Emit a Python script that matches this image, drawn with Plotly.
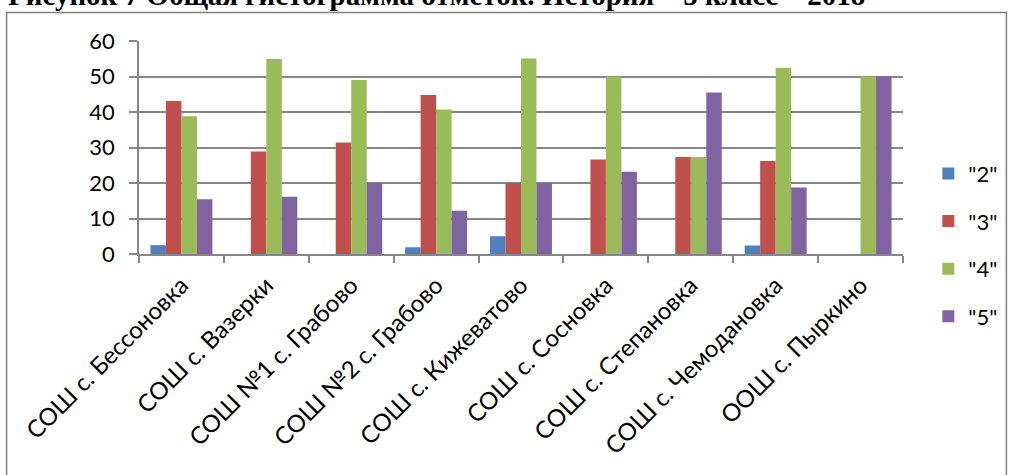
import plotly.graph_objects as go

categories = ["СОШ с. Бессоновка", "СОШ с. Вазерки", "СОШ №1 с. Грабово", "СОШ №2 с. Грабово",
              "СОШ с. Кижеватово", "СОШ с. Сосновка", "СОШ с. Степановка", "СОШ с. Чемодановка",
              "ООШ с. Пыркино"]
series_names = ['"2"', '"3"', '"4"', '"5"']
grade2 = [2.5, 0, 0, 1.9, 5.0, 0, 0, 2.4, 0]
grade3 = [43.1, 28.9, 31.4, 44.8, 20.0, 26.6, 27.3, 26.2, 0]
grade4 = [38.8, 54.9, 49.0, 40.7, 55.1, 50.0, 27.3, 52.5, 50.0]
grade5 = [15.4, 16.1, 20.0, 12.2, 20.0, 23.2, 45.5, 18.7, 50.0]
colors = ["#4F81BD", "#C0504D", "#9BBB59", "#8064A2"]
title_text = "Рисунок 7 Общая гистограмма отметок. История – 5 класс – 2018"

W, H = 1015, 475
# plot area in page pixels (page body margin removed below)
PL, PR, PT, PB = 139.3, 902.7, 40.7, 254.3
ML, MT = PL, PT
MR, MB = W - PR, H - PB
PW, PH = PR - PL, PB - PT

def px_x(x):  # page pixel -> paper
    return (x - PL) / PW

def px_y(y):
    return (PB - y) / PH

fig = go.Figure()
for i, (name, vals) in enumerate(zip(series_names, [grade2, grade3, grade4, grade5])):
    fig.add_trace(go.Bar(x=categories, y=vals, name=name, marker_color=colors[i],
                         marker_line_width=0, legendgroup=name))

font_main = "Lato, 'Open Sans', sans-serif"
fig.update_layout(
    width=W, height=H,
    margin=dict(l=ML, r=MR, t=MT, b=MB, autoexpand=False),
    paper_bgcolor="white", plot_bgcolor="white",
    barmode="group", bargap=0.27, bargroupgap=0,
    font=dict(family=font_main, size=22, color="black"),
    legend=dict(x=px_x(928), y=px_y(245.5), xanchor="left", yanchor="middle",
                font=dict(size=22), tracegroupgap=16, bgcolor="rgba(0,0,0,0)"),
    showlegend=True,
)
fig.update_yaxes(range=[0, 60], dtick=10, showgrid=True, gridcolor="#868686", gridwidth=1.5,
                 showline=True, linecolor="#868686", linewidth=1.5, ticks="outside",
                 ticklen=8, tickcolor="#868686", tickwidth=1.5, zeroline=False,
                 ticklabelstandoff=10, automargin=False)
fig.update_xaxes(showline=True, linecolor="#868686", linewidth=1.5, ticks="outside",
                 tickson="boundaries", ticklen=7, tickcolor="#868686", tickwidth=1.5,
                 tickangle=-45, showgrid=False, automargin=False,
                 tickfont=dict(size=24), ticklabelstandoff=6)

# chart border
fig.add_shape(type="rect", xref="paper", yref="paper",
              x0=px_x(7), x1=px_x(1006), y0=px_y(485), y1=px_y(12),
              line=dict(color="#808080", width=1.5), fillcolor="rgba(0,0,0,0)", layer="below")

# partially visible caption above the chart (cut at the top edge, as in the source)
fig.add_annotation(text=title_text, xref="paper", yref="paper", x=px_x(6), y=px_y(13),
                   xanchor="left", yanchor="bottom", showarrow=False,
                   font=dict(family="'Liberation Serif', 'Times New Roman', serif", size=29,
                             color="black", weight="bold"))

fig.write_html("out.html", config={"displayModeBar": False},
               post_script="document.body.style.margin='0';document.body.style.overflow='hidden';")
